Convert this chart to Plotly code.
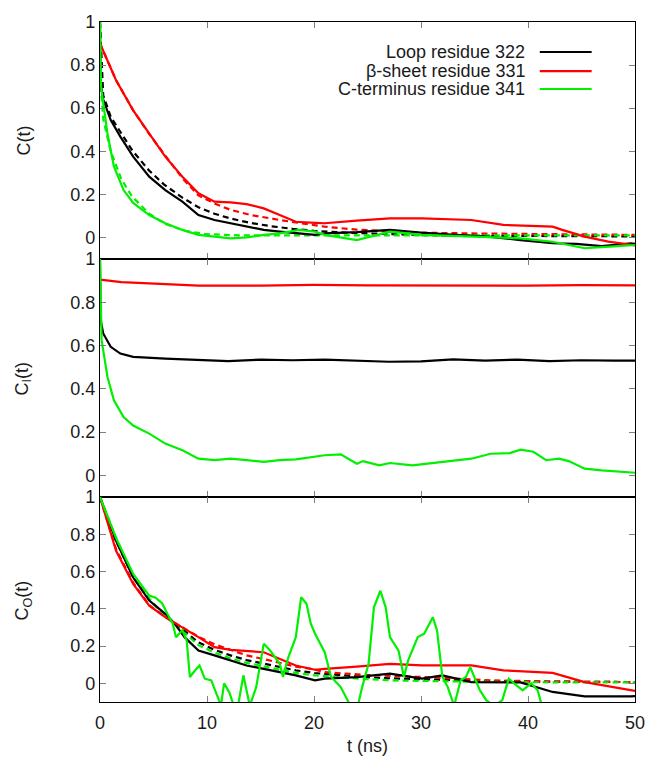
import plotly.graph_objects as go
from plotly.subplots import make_subplots

# ---------------- data ----------------
# Panel 1: C(t)
p1_black_t = [0, 0.05, 0.3, 1.0, 1.9, 3.1, 4.6, 6.1, 7.7, 9.2, 10.7, 12.2, 13.7, 15.3, 16.8, 18.3, 20.1, 21, 24, 27.1, 30, 33.2, 36, 39.3, 42.3, 44.5, 46.9, 49.6, 50]
p1_black = [1.0, 0.72, 0.64, 0.545, 0.468, 0.375, 0.282, 0.22, 0.166, 0.104, 0.081, 0.067, 0.05, 0.035, 0.027, 0.019, 0.012, 0.019, 0.025, 0.035, 0.022, 0.012, 0.005, -0.012, -0.027, -0.03, -0.04, -0.027, -0.03]
p1_black_fit_t = [0, 0.3, 1, 2, 3, 4.6, 6, 7.7, 9.2, 10.7, 12.2, 14, 16, 18, 20, 23, 26, 30, 35, 40, 45, 50]
p1_black_fit = [1.0, 0.66, 0.56, 0.48, 0.405, 0.31, 0.245, 0.185, 0.14, 0.11, 0.088, 0.068, 0.052, 0.04, 0.031, 0.022, 0.016, 0.011, 0.008, 0.006, 0.005, 0.005]
p1_red_t = [0, 1.5, 3.1, 4.6, 6.1, 7.7, 9.2, 10.7, 12.2, 13.7, 15.3, 16.8, 18.3, 20.1, 21, 24, 27.1, 30.1, 34.7, 37.7, 40, 42.3, 43.2, 45.3, 47.5, 49.6, 50]
p1_red = [0.90, 0.73, 0.59, 0.483, 0.375, 0.282, 0.205, 0.166, 0.163, 0.155, 0.135, 0.104, 0.073, 0.068, 0.066, 0.078, 0.089, 0.089, 0.081, 0.058, 0.055, 0.05, 0.035, 0.004, -0.019, -0.035, -0.037]
p1_red_fit_t = [0, 1.5, 3.1, 4.6, 6.1, 7.7, 9.2, 10.7, 12.2, 14, 16.8, 19, 21, 24, 27.1, 30, 36, 42, 49.6, 50]
p1_red_fit = [0.90, 0.73, 0.59, 0.48, 0.38, 0.275, 0.195, 0.158, 0.128, 0.105, 0.081, 0.065, 0.05, 0.036, 0.027, 0.022, 0.018, 0.015, 0.012, 0.012]
p1_green_t = [0, 0.1, 0.7, 1.3, 2.2, 3.1, 4.6, 6.1, 7.7, 9.2, 10.7, 12.2, 13.7, 15.3, 16.8, 18.6, 20.1, 21, 24, 27.1, 30.1, 34.7, 39.3, 42.3, 45.3, 48.4, 50]
p1_green = [1.0, 0.70, 0.48, 0.33, 0.22, 0.16, 0.104, 0.066, 0.035, 0.012, 0.004, -0.004, 0.0, 0.012, 0.019, 0.035, 0.027, 0.012, -0.012, 0.027, 0.012, 0.004, -0.004, -0.02, -0.05, -0.04, -0.035]
p1_green_fit_t = [0, 0.3, 1, 2, 3, 4.6, 6, 8, 10, 13, 16, 20, 30, 40, 50]
p1_green_fit = [0.75, 0.55, 0.4, 0.27, 0.19, 0.11, 0.065, 0.03, 0.015, 0.01, 0.01, 0.01, 0.01, 0.01, 0.01]

# Panel 2: C_I(t)
p2_red_t = [0, 2, 4.6, 9.2, 15, 20, 25, 30, 35, 40, 45, 50]
p2_red = [0.905, 0.893, 0.887, 0.877, 0.877, 0.88, 0.878, 0.877, 0.878, 0.877, 0.879, 0.878]
p2_black_t = [0, 0.05, 0.3, 1, 1.9, 3.1, 6.1, 9.2, 12, 15, 18, 21, 24, 27, 30, 33, 36, 39, 42, 45, 48, 50]
p2_black = [1.0, 0.72, 0.656, 0.594, 0.563, 0.548, 0.54, 0.532, 0.528, 0.535, 0.532, 0.535, 0.53, 0.525, 0.527, 0.536, 0.53, 0.535, 0.528, 0.532, 0.53, 0.53]
p2_green_t = [0, 0.15, 0.7, 1.3, 2.2, 3.1, 4.6, 6.1, 7.7, 9.2, 10.7, 12.2, 13.7, 15.3, 16.8, 18.3, 21, 22.5, 24, 24.6, 26.1, 27.1, 29.2, 31.1, 33.2, 34.7, 36.5, 38.3, 39.3, 40.5, 41.7, 42.9, 43.8, 45.3, 46.9, 49.6, 50]
p2_green = [1.0, 0.625, 0.455, 0.347, 0.27, 0.23, 0.193, 0.147, 0.116, 0.077, 0.07, 0.077, 0.07, 0.062, 0.07, 0.074, 0.093, 0.097, 0.054, 0.066, 0.046, 0.057, 0.046, 0.056, 0.066, 0.077, 0.1, 0.103, 0.119, 0.109, 0.07, 0.077, 0.066, 0.031, 0.023, 0.015, 0.012]

# Panel 3: C_O(t)
p3_black_t = [0, 1.5, 3.1, 4.6, 6.1, 7.0, 7.9, 9.2, 10.7, 12.2, 13.7, 15.3, 16.8, 18.3, 20.1, 21, 24, 27.1, 30.1, 32, 34.7, 39.3, 42.3, 45.3, 49.6, 50]
p3_black = [1.0, 0.765, 0.568, 0.444, 0.373, 0.319, 0.248, 0.176, 0.15, 0.123, 0.096, 0.078, 0.06, 0.043, 0.016, 0.025, 0.034, 0.052, 0.025, 0.043, 0.007, 0.005, -0.046, -0.07, -0.07, -0.068]
p3_black_fit_t = [0, 1.5, 3.1, 4.6, 6.1, 7.7, 9.2, 10.7, 12.2, 13.7, 15.3, 16.8, 18.3, 20.1, 22, 25, 28, 32, 36, 40, 45, 50]
p3_black_fit = [1.0, 0.765, 0.57, 0.45, 0.365, 0.29, 0.22, 0.18, 0.15, 0.125, 0.105, 0.087, 0.07, 0.055, 0.045, 0.033, 0.025, 0.018, 0.013, 0.01, 0.008, 0.007]
p3_red_t = [0, 1.5, 3.1, 4.6, 6.1, 7.7, 9.2, 10.7, 12.2, 15.3, 16.8, 18.3, 20.1, 21, 24, 27.1, 30.1, 34.7, 37.7, 42.3, 45.3, 49.6, 50]
p3_red = [1.0, 0.711, 0.533, 0.417, 0.355, 0.301, 0.248, 0.194, 0.18, 0.167, 0.13, 0.096, 0.073, 0.078, 0.09, 0.105, 0.096, 0.096, 0.07, 0.056, 0.007, -0.037, -0.04]
p3_red_fit_t = [0, 1.5, 3.1, 4.6, 6.1, 7.7, 9.2, 10.7, 12.2, 13.7, 15.3, 16.8, 18.3, 20, 21, 25, 30.1, 36.4, 42, 49.6, 50]
p3_red_fit = [1.0, 0.72, 0.54, 0.42, 0.355, 0.3, 0.25, 0.21, 0.18, 0.15, 0.13, 0.11, 0.09, 0.075, 0.06, 0.045, 0.034, 0.016, 0.01, 0.007, 0.007]
p3_green_t = [0, 1.5, 3.1, 4.6, 5.2, 5.8, 6.3, 6.8, 7.1, 7.7, 8.1, 8.4, 8.9, 9.3, 9.8, 10.4, 11.0, 11.3, 11.6, 12.1, 12.5, 12.9, 13.4, 14.0, 14.6, 15.3, 15.9, 16.8, 17.1, 17.6, 18.3, 18.8, 19.3, 19.7, 20.1, 21.0, 21.6, 22.5, 23.4, 24.1, 24.5, 25.1, 25.6, 26.2, 26.7, 27.1, 27.9, 28.4, 28.8, 29.3, 29.7, 30.3, 31.1, 31.5, 32.0, 32.5, 33.1, 33.7, 34.2, 34.6, 35.1, 35.5, 36.1, 36.8, 37.6, 38.2, 38.9, 39.5, 40.3, 40.9, 41.3, 42.0, 45.0, 50.0]
p3_green = [1.0, 0.78, 0.587, 0.471, 0.46, 0.43, 0.373, 0.32, 0.248, 0.285, 0.23, 0.034, 0.07, 0.096, 0.025, 0.016, -0.073, -0.12, 0.0, -0.05, -0.12, -0.12, 0.043, -0.12, -0.02, 0.212, 0.176, 0.105, 0.034, 0.14, 0.248, 0.462, 0.427, 0.32, 0.266, 0.167, 0.034, -0.02, -0.12, -0.12, -0.02, 0.105, 0.408, 0.497, 0.408, 0.248, 0.176, 0.034, 0.123, 0.194, 0.248, 0.266, 0.355, 0.284, 0.034, -0.02, -0.12, 0.016, 0.034, 0.087, 0.016, -0.037, -0.09, -0.12, -0.09, 0.025, -0.01, -0.037, 0.0, -0.037, -0.12, -0.15, -0.2, -0.2]
p3_green_fit_t = [0, 1.5, 3.1, 4.6, 6.1, 7.7, 9.2, 10.7, 12.2, 13.7, 15.3, 16.8, 18.3, 20.1, 22, 25, 28, 32, 36, 40, 45, 50]
p3_green_fit = [1.0, 0.78, 0.58, 0.455, 0.36, 0.28, 0.205, 0.165, 0.135, 0.11, 0.09, 0.072, 0.056, 0.043, 0.034, 0.022, 0.015, 0.01, 0.008, 0.006, 0.005, 0.005]

legend_labels = ["Loop residue 322", "\u03b2-sheet residue 331", "C-terminus residue 341"]
x_ticks = [0, 10, 20, 30, 40, 50]
y_ticks = [0, 0.2, 0.4, 0.6, 0.8, 1]
y_ticktext = ["0", "0.2", "0.4", "0.6", "0.8", "1"]

BLACK = "#000000"
RED = "#ff0000"
GREEN = "#00f000"
FONT = "Liberation Sans"
TXT = "#1a1a1a"
FS = 18

fig = make_subplots(rows=3, cols=1, shared_xaxes=True, vertical_spacing=0,
                    row_heights=[237, 238, 205])

def line(t, y, color, row, dash="solid"):
    fig.add_trace(go.Scatter(x=t, y=y, mode="lines",
                             line=dict(color=color, width=2.2, dash=dash),
                             showlegend=False, hoverinfo="skip"), row=row, col=1)

# panel 1 (dashed fits drawn first, solid on top)
line(p1_black_fit_t, p1_black_fit, BLACK, 1, "6px,4px")
line(p1_red_fit_t, p1_red_fit, RED, 1, "6px,4px")
line(p1_green_fit_t, p1_green_fit, GREEN, 1, "6px,4px")
line(p1_black_t, p1_black, BLACK, 1)
line(p1_red_t, p1_red, RED, 1)
line(p1_green_t, p1_green, GREEN, 1)
# panel 2
line(p2_black_t, p2_black, BLACK, 2)
line(p2_red_t, p2_red, RED, 2)
line(p2_green_t, p2_green, GREEN, 2)
# panel 3
line(p3_black_fit_t, p3_black_fit, BLACK, 3, "6px,4px")
line(p3_red_fit_t, p3_red_fit, RED, 3, "6px,4px")
line(p3_green_fit_t, p3_green_fit, GREEN, 3, "6px,4px")
line(p3_black_t, p3_black, BLACK, 3)
line(p3_red_t, p3_red, RED, 3)
line(p3_green_t, p3_green, GREEN, 3)

axis_common = dict(showline=True, linecolor="black", linewidth=1.2, mirror="ticks",
                   ticks="inside", ticklen=6, tickcolor="#808080", tickwidth=1,
                   showgrid=False, zeroline=False,
                   tickfont=dict(family=FONT, size=FS, color=TXT))

for r in (1, 2, 3):
    fig.update_xaxes(range=[0, 50], tickvals=x_ticks, showticklabels=(r == 3),
                     row=r, col=1, **axis_common)
    fig.update_yaxes(range=[-0.1, 1], tickvals=y_ticks, ticktext=y_ticktext,
                     row=r, col=1, **axis_common)
fig.update_xaxes(ticklabelstandoff=4, row=3, col=1)

# y-axis titles
ytitles = [("C(t)", 0.8265), ("C<sub>I</sub>(t)", 0.4765), ("C<sub>O</sub>(t)", 0.15)]
for txt, yy in ytitles:
    fig.add_annotation(text=txt, xref="paper", yref="paper", x=-0.143, y=yy,
                       xanchor="center", yanchor="middle", textangle=-90,
                       showarrow=False, font=dict(family=FONT, size=FS, color=TXT))

fig.add_annotation(text="t (ns)", xref="paper", yref="paper", x=0.5, y=-0.0645,
                   xanchor="center", yanchor="middle", showarrow=False,
                   font=dict(family=FONT, size=FS, color=TXT))

# legend (text right-aligned, sample line to the right)
leg_y = [0.9559, 0.9279, 0.9015]
leg_c = [BLACK, RED, GREEN]
for lab, yy, c in zip(legend_labels, leg_y, leg_c):
    fig.add_annotation(text=lab, xref="paper", yref="paper", x=0.7978, y=yy,
                       xanchor="right", yanchor="middle", showarrow=False,
                       font=dict(family=FONT, size=FS, color=TXT))
    fig.add_shape(type="line", xref="paper", yref="paper", x0=0.822, x1=0.919,
                  y0=yy, y1=yy, line=dict(color=c, width=2.2))

fig.update_layout(width=657, height=757, margin=dict(l=100, r=13, t=22, b=55),
                  plot_bgcolor="white", paper_bgcolor="white", showlegend=False)

fig.write_html("out.html")
